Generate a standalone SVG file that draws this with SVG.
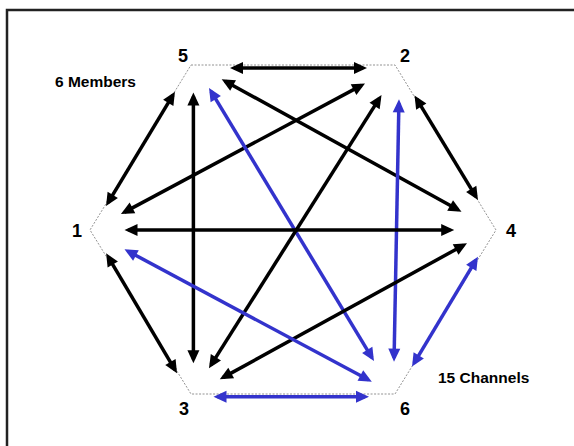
<svg xmlns="http://www.w3.org/2000/svg" width="574" height="446" viewBox="0 0 574 446">
<style>
.lbl{font-family:"Liberation Sans",Arial,sans-serif;font-weight:bold;fill:#000}
.num{font-size:18px;text-anchor:middle}
.cap{font-size:15.5px}
.k{stroke:#000;stroke-width:3.5;fill:none;marker-start:url(#hk);marker-end:url(#hk)}
.b{stroke:#3333CC;stroke-width:3.5;fill:none;marker-start:url(#hb);marker-end:url(#hb)}
</style>
<defs>
<marker id="hk" markerUnits="userSpaceOnUse" markerWidth="14" markerHeight="12" refX="9" refY="6" orient="auto-start-reverse" overflow="visible"><path d="M0,0 L13,6 L0,12 z" fill="#000"/></marker>
<marker id="hb" markerUnits="userSpaceOnUse" markerWidth="14" markerHeight="12" refX="9" refY="6" orient="auto-start-reverse" overflow="visible"><path d="M0,0 L13,6 L0,12 z" fill="#3333CC"/></marker>
</defs>
<rect width="574" height="446" fill="#fff"/>
<rect x="7" y="10" width="600" height="500" fill="none" stroke="#222" stroke-width="2.5"/>
<polygon points="191,65 395,65 496,230 395,394 191,394 90,230" fill="none" stroke="#777" stroke-width="0.8" stroke-dasharray="2 1.5"/>
<g id="connectors">
<line class="k" x1="234" y1="68" x2="363" y2="68"/>
<line class="k" x1="225.2" y1="81.2" x2="458" y2="209.8"/>
<line class="k" x1="361.5" y1="85.4" x2="124.5" y2="212.1"/>
<line class="k" x1="108.1" y1="202.6" x2="172.9" y2="95.1"/>
<line class="k" x1="193.4" y1="96.5" x2="193.4" y2="359.3"/>
<line class="b" x1="211.1" y1="91.4" x2="371.9" y2="357.6"/>
<line class="k" x1="379.4" y1="98.4" x2="211.1" y2="364.9"/>
<line class="b" x1="398.9" y1="103.3" x2="394.1" y2="357.7"/>
<line class="k" x1="416.6" y1="98.9" x2="475.9" y2="196.6"/>
<line class="k" x1="128.5" y1="230" x2="450.2" y2="230"/>
<line class="k" x1="223.3" y1="377.4" x2="463.5" y2="245.2"/>
<line class="b" x1="414.1" y1="363.1" x2="475.9" y2="260.1"/>
<line class="b" x1="128" y1="251.2" x2="368.3" y2="379.8"/>
<line class="k" x1="108.2" y1="256.8" x2="175" y2="369.8"/>
<line class="b" x1="217.5" y1="396.7" x2="365" y2="396.7"/>
</g>
<g id="node-5"><text class="lbl num" x="183" y="62">5</text></g>
<g id="node-2"><text class="lbl num" x="405" y="62">2</text></g>
<g id="node-1"><text class="lbl num" x="77" y="237">1</text></g>
<g id="node-4"><text class="lbl num" x="511" y="237">4</text></g>
<g id="node-3"><text class="lbl num" x="184" y="415">3</text></g>
<g id="node-6"><text class="lbl num" x="405" y="415">6</text></g>
<g id="label-members"><text class="lbl cap" x="55" y="86.5">6 Members</text></g>
<g id="label-channels"><text class="lbl cap" x="438" y="383">15 Channels</text></g>
</svg>
